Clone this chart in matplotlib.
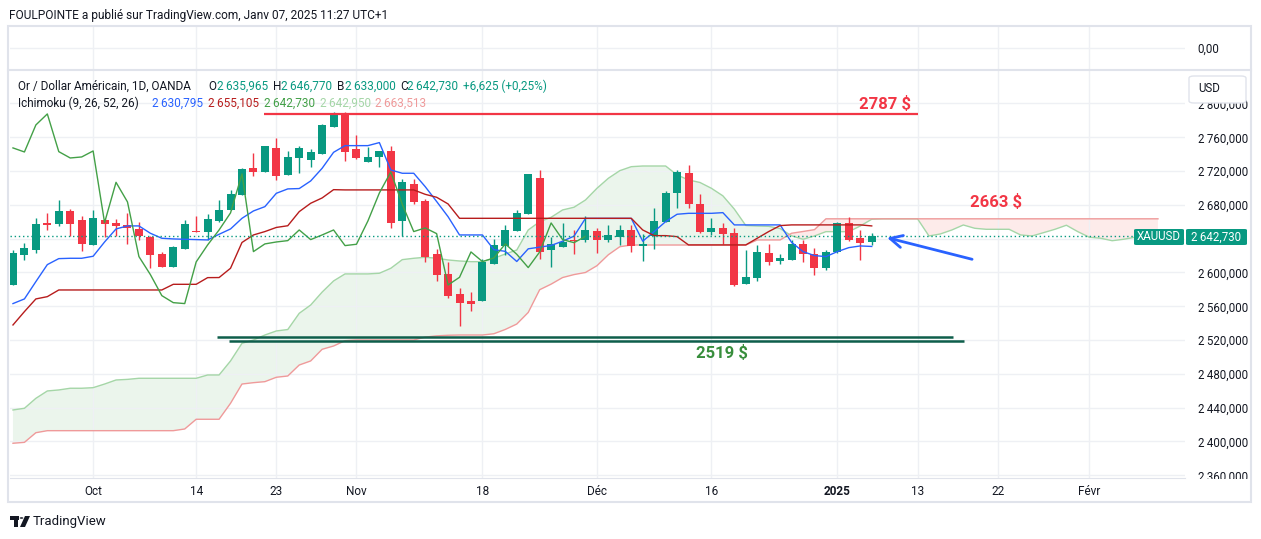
import matplotlib.pyplot as plt
from matplotlib.patches import Rectangle, FancyBboxPatch, Polygon, Circle
from matplotlib.lines import Line2D
import numpy as np

plt.rcParams['font.family'] = ['Roboto', 'DejaVu Sans']

W, H = 1261, 539

# daily candles, index 0 = first visible bar (Sep 20, 2024) .. 75 = Jan 07, 2025
opens = [2585.2, 2621.1, 2626.7, 2659.0, 2657.8, 2672.8, 2662.2, 2633.0, 2661.8, 2659.0,
         2656.3, 2651.5, 2642.4, 2621.9, 2606.5, 2628.2, 2649.2, 2648.0, 2661.4, 2674.4,
         2692.1, 2723.7, 2719.4, 2747.4, 2715.8, 2735.9, 2733.6, 2740.7, 2772.6, 2788.4,
         2746.2, 2731.2, 2736.7, 2743.8, 2661.4, 2704.8, 2684.7, 2621.9, 2598.3, 2574.6,
         2566.3, 2566.7, 2610.5, 2631.8, 2649.5, 2669.3, 2711.9, 2627.1, 2630.6, 2638.9,
         2638.9, 2649.2, 2638.9, 2642.4, 2650.3, 2631.8, 2642.8, 2660.2, 2694.5, 2717.8,
         2681.1, 2648.4, 2652.7, 2647.2, 2586.8, 2593.9, 2623.1, 2614.0, 2615.2, 2633.8,
         2621.9, 2605.8, 2624.3, 2658.6, 2640.5, 2635.965]
highs = [2626.7, 2635.0, 2664.1, 2670.5, 2685.8, 2675.2, 2666.9, 2674.0, 2663.0, 2663.4,
         2670.5, 2660.2, 2643.0, 2624.7, 2631.4, 2662.2, 2666.9, 2669.3, 2685.8, 2697.7,
         2723.5, 2741.5, 2749.7, 2759.2, 2743.8, 2749.3, 2746.2, 2775.4, 2789.6, 2790.4,
         2762.4, 2748.6, 2743.8, 2749.7, 2710.7, 2710.7, 2686.6, 2627.9, 2612.0, 2581.7,
         2576.6, 2616.0, 2640.1, 2656.3, 2674.0, 2716.6, 2720.9, 2641.7, 2658.6, 2650.3,
         2666.5, 2652.3, 2656.3, 2656.3, 2656.3, 2645.2, 2676.0, 2696.5, 2720.9, 2727.3,
         2692.9, 2664.1, 2658.2, 2652.3, 2626.7, 2632.6, 2633.4, 2621.9, 2638.5, 2638.5,
         2628.6, 2626.7, 2660.2, 2665.3, 2649.9, 2646.77]
lows = [2585.2, 2615.2, 2623.5, 2650.7, 2655.5, 2643.6, 2625.9, 2633.0, 2642.4, 2643.6,
        2633.4, 2638.9, 2605.8, 2606.1, 2606.1, 2628.2, 2648.0, 2638.5, 2660.2, 2674.4,
        2692.1, 2714.2, 2719.4, 2709.9, 2715.8, 2718.2, 2724.9, 2740.7, 2771.8, 2732.4,
        2734.0, 2731.2, 2724.9, 2653.1, 2643.2, 2681.5, 2612.1, 2590.4, 2570.0, 2537.1,
        2554.9, 2566.7, 2610.5, 2620.7, 2649.5, 2669.3, 2616.4, 2606.2, 2630.0, 2622.3,
        2635.7, 2622.7, 2635.7, 2632.6, 2624.7, 2614.0, 2627.9, 2659.4, 2676.8, 2676.0,
        2647.2, 2644.4, 2634.2, 2584.4, 2586.0, 2590.4, 2608.9, 2610.1, 2615.0, 2612.9,
        2597.1, 2603.4, 2622.7, 2637.3, 2614.8, 2633.0]
closes = [2622.7, 2628.6, 2657.4, 2656.6, 2672.8, 2657.8, 2634.2, 2664.5, 2657.8, 2655.5,
          2653.1, 2642.8, 2620.7, 2606.5, 2629.8, 2657.4, 2648.0, 2663.4, 2674.0, 2692.9,
          2722.5, 2719.4, 2749.7, 2714.2, 2736.7, 2747.4, 2742.6, 2774.6, 2787.6, 2743.0,
          2735.5, 2736.7, 2743.8, 2659.0, 2706.7, 2683.5, 2618.8, 2597.5, 2572.6, 2564.3,
          2563.2, 2612.5, 2632.6, 2650.3, 2670.5, 2716.6, 2624.7, 2633.8, 2636.1, 2637.7,
          2650.3, 2638.9, 2644.4, 2650.3, 2631.8, 2633.4, 2661.0, 2694.1, 2719.0, 2680.7,
          2648.4, 2652.7, 2646.0, 2585.2, 2594.3, 2624.3, 2612.9, 2617.2, 2633.8, 2621.5,
          2605.8, 2624.3, 2658.6, 2638.9, 2635.3, 2642.73]

# Ichimoku (9, 26, 52, 26)
tenkan = [2563.2, 2568.7, 2589.2, 2609.3, 2616.4, 2616.8, 2616.8, 2619.2, 2636.1, 2651.5,
          2655.1, 2655.1, 2646.4, 2640.5, 2639.7, 2639.3, 2638.9, 2638.5, 2645.2, 2651.5,
          2664.1, 2672.8, 2677.9, 2693.7, 2698.9, 2699.3, 2708.3, 2723.3, 2742.2, 2750.1,
          2750.1, 2750.1, 2753.7, 2721.3, 2717.4, 2717.4, 2701.6, 2684.0, 2666.0, 2644.4,
          2644.4, 2644.4, 2627.0, 2625.0, 2613.0, 2628.0, 2630.0, 2632.0, 2637.0, 2643.0,
          2664.0, 2664.0, 2664.0, 2664.0, 2664.0, 2637.0, 2648.4, 2660.2, 2668.9, 2670.0,
          2670.0, 2670.0, 2670.8, 2656.3, 2656.3, 2656.3, 2656.3, 2656.3, 2635.7, 2624.7,
          2620.0, 2618.8, 2624.7, 2629.4, 2631.4, 2630.8]
kijun = [2537.9, 2553.7, 2568.7, 2571.4, 2579.3, 2579.3, 2579.3, 2579.3, 2579.3, 2579.3,
         2579.3, 2579.3, 2579.3, 2579.3, 2586.0, 2586.0, 2586.0, 2593.9, 2594.0, 2605.0,
         2635.5, 2644.4, 2648.4, 2653.3, 2655.3, 2672.0, 2681.9, 2688.2, 2698.0, 2697.7,
         2697.7, 2697.7, 2697.7, 2697.7, 2697.7, 2697.7, 2692.5, 2689.0, 2681.1, 2664.1,
         2664.1, 2664.1, 2664.1, 2664.1, 2664.1, 2664.1, 2664.1, 2664.1, 2664.1, 2664.1,
         2664.1, 2664.1, 2664.1, 2664.1, 2664.1, 2650.3, 2643.6, 2643.6, 2642.4, 2632.6,
         2632.6, 2632.6, 2632.6, 2632.6, 2632.6, 2640.5, 2648.4, 2655.5, 2656.3, 2656.3,
         2656.3, 2656.3, 2656.3, 2656.3, 2656.3, 2655.1]
span_a = [2437.3, 2439.3, 2451.1, 2459.8, 2461.0, 2463.0, 2463.0, 2463.7, 2468.0, 2472.8,
          2473.5, 2474.8, 2474.8, 2474.8, 2474.8, 2474.8, 2474.8, 2478.7, 2478.7, 2495.3,
          2516.2, 2520.1, 2526.0, 2530.8, 2532.5, 2551.7, 2561.5, 2576.8, 2590.0, 2598.3,
          2598.3, 2598.3, 2599.1, 2605.0, 2615.2, 2616.8, 2618.0, 2616.9, 2614.8, 2613.6,
          2612.8, 2612.8, 2616.8, 2621.9, 2626.6, 2650.3, 2660.1, 2665.3, 2674.0, 2677.2,
          2685.8, 2699.6, 2711.5, 2720.5, 2725.2, 2726.0, 2726.0, 2726.0, 2715.4, 2709.5,
          2706.5, 2699.6, 2690.7, 2675.0, 2655.6, 2655.0, 2654.6, 2652.0, 2643.4, 2639.3,
          2643.2, 2648.3, 2648.3, 2648.3, 2655.0, 2663.0, 2663.5, 2663.5, 2663.5, 2663.5,
          2643.2, 2645.6, 2650.3, 2656.2, 2652.3, 2651.1, 2651.1, 2651.1, 2644.4, 2643.2,
          2647.1, 2651.1, 2655.9, 2648.3, 2641.7, 2640.5, 2637.6, 2639.3, 2641.7, 2642.5,
          2642.95]
span_b = [2397.9, 2399.0, 2410.4, 2412.8, 2412.8, 2412.8, 2412.8, 2412.8, 2412.8, 2412.8,
          2412.8, 2412.8, 2412.8, 2412.8, 2412.8, 2414.8, 2426.3, 2426.3, 2426.3, 2445.2,
          2468.0, 2469.6, 2470.8, 2476.0, 2477.5, 2490.5, 2495.3, 2509.1, 2513.0, 2519.3,
          2520.1, 2520.1, 2520.1, 2520.1, 2520.1, 2520.1, 2523.5, 2525.0, 2525.7, 2526.0,
          2526.0, 2526.0, 2527.5, 2532.6, 2539.0, 2552.7, 2579.6, 2586.2, 2594.0, 2597.5,
          2600.0, 2608.0, 2621.0, 2630.5, 2632.5, 2632.5, 2632.5, 2632.5, 2632.5, 2632.5,
          2632.5, 2632.5, 2632.5, 2632.5, 2632.5, 2638.5, 2638.5, 2638.5, 2646.4, 2648.5,
          2650.7, 2663.5, 2663.5, 2663.5, 2663.5, 2663.5, 2663.5, 2663.5, 2663.5, 2663.5,
          2663.5, 2663.5, 2663.5, 2663.5, 2663.5, 2663.5, 2663.5, 2663.5, 2663.5, 2663.5,
          2663.5, 2663.5, 2663.5, 2663.5, 2663.5, 2663.5, 2663.5, 2663.5, 2663.5, 2663.5,
          2663.513]
lag = 25  # TradingView shifts by displacement - 1

tick_idx = [7, 16, 23, 30, 41, 51, 61, 72, 79, 86, 94]
tick_labels = ['Oct', '14', '23', 'Nov', '18', 'Déc', '16', '2025', '13', '22', 'Févr']
price_ticks = list(range(2360, 2801, 40))
last_price = 2642.73

# drawings
res_level, res_from, res_to = 2787.6, 21.9, 79.0
sup_levels = [2523.7, 2519.0]
sup_from = [17.8, 18.9]
sup_to = [82.1, 83.1]

UP, DN = '#089981', '#F23645'
TXT = '#131722'
GRID = '#EEF0F4'
BORDER = '#E0E3EB'


def fpos(x, y):
    return x / W, 1 - y / H


def fmt(v, dec=3):
    s = f"{v:,.{dec}f}"
    return s.replace(',', '\u2009').replace('.', ',')


fig = plt.figure(figsize=(W / 100, H / 100), dpi=100)
fig.patch.set_facecolor('white')

x0, y0 = fpos(10, 478)
x1, y1 = fpos(1185, 70)
ax = fig.add_axes([x0, y0, x1 - x0, y1 - y0])
_, yt = fpos(0, 27)
ax_top = fig.add_axes([x0, y1, x1 - x0, yt - y1])

xlim = (-0.26, 102.36)
for a in (ax, ax_top):
    a.set_xlim(*xlim)
    a.set_facecolor('white')
    for s in a.spines.values():
        s.set_visible(False)
    a.set_xticks(tick_idx)
    a.grid(axis='x', color=GRID, lw=1, zorder=0)
    a.tick_params(length=0)

ax.set_ylim(2356.8, 2839.6)
ax.yaxis.tick_right()
ax.set_yticks(price_ticks)
# the 2 640 label sits under the last-price tag, so it is left blank
ax.set_yticklabels(['' if v == 2640 else fmt(v) for v in price_ticks], fontsize=8.3, color=TXT)
ax.tick_params(axis='y', pad=9)
ax.grid(axis='y', color=GRID, lw=1, zorder=0)
ax.set_xticklabels(tick_labels, fontsize=8.5, color=TXT)
ax.tick_params(axis='x', pad=5)
ax.get_xticklabels()[7].set_fontweight('bold')
ax.spines['bottom'].set_visible(True)
ax.spines['bottom'].set_color(BORDER)

ax_top.set_ylim(0, 1)
ax_top.yaxis.tick_right()
ax_top.set_yticks([0.51])
ax_top.set_yticklabels(['0,00'], fontsize=8.3, color=TXT)
ax_top.tick_params(axis='y', pad=9)
ax_top.grid(axis='y', color=GRID, lw=1)
ax_top.set_xticklabels([])

# Ichimoku cloud
xc = np.arange(len(span_a))
sa, sb = np.array(span_a), np.array(span_b)
ax.fill_between(xc, sa, sb, where=sa >= sb, interpolate=True, color='#43A047', alpha=0.1, lw=0, zorder=1)
ax.fill_between(xc, sa, sb, where=sa < sb, interpolate=True, color='#F44336', alpha=0.1, lw=0, zorder=1)
ax.plot(xc, sa, color='#A5D6A7', lw=1, zorder=2)
ax.plot(xc, sb, color='#EF9A9A', lw=1, zorder=2)

# candles
xi = np.arange(len(closes))
o, h, l, c = map(np.array, (opens, highs, lows, closes))
cols = np.where(c >= o, UP, DN)
ax.vlines(xi, l, h, colors=cols, lw=1, zorder=3)
ax.bar(xi, np.maximum(np.abs(c - o), 0.9), bottom=np.minimum(o, c), width=0.7,
       color=cols, lw=0, zorder=3)

# lines
ax.plot(xi, tenkan, color='#2962FF', lw=1, zorder=4)
ax.plot(xi, kijun, color='#B71C1C', lw=1, zorder=4)
ax.plot(xi[:len(closes) - lag], c[lag:], color='#43A047', lw=1, zorder=4)

# current price line
ax.axhline(last_price, color=UP, lw=1, ls=(0, (1, 2)), zorder=4)

# drawn levels
ax.hlines(res_level, res_from, res_to, color='#F23645', lw=1.6, zorder=5)
for lv, a0, a1 in zip(sup_levels, sup_from, sup_to):
    ax.hlines(lv, a0, a1, color='#0E5E4B', lw=1.8, zorder=5)
ax.text(76.2, 2799.4, '2787 $', color='#F23645', fontsize=12, fontweight='bold',
        ha='center', va='center', zorder=6)
ax.text(85.85, 2683.4, '2663 $', color='#F23645', fontsize=12, fontweight='bold',
        ha='center', va='center', zorder=6)
ax.text(61.9, 2504.7, '2519 $', color='#388E3C', fontsize=12, fontweight='bold',
        ha='center', va='center', zorder=6)
ax.annotate('', xy=(76.1, 2642.0), xytext=(84.0, 2614.8),
            arrowprops=dict(arrowstyle='->', color='#2962FF', lw=2, mutation_scale=22),
            zorder=6)

# outer frame and separators
fig.patches.append(Rectangle(fpos(8, 502), (1251 - 8) / W, (502 - 26) / H, transform=fig.transFigure,
                             fill=False, edgecolor=BORDER, lw=1.5, zorder=10))
fig.lines.append(Line2D([8 / W, 1251 / W], [1 - 70 / H, 1 - 70 / H], transform=fig.transFigure,
                        color=BORDER, lw=1.5, zorder=10))
# hide the clipped bottom price label area
fig.patches.append(Rectangle(fpos(1187, 501), 63 / W, 22 / H, transform=fig.transFigure,
                             facecolor='white', edgecolor='none', zorder=9))
fig.patches.append(Rectangle(fpos(1187, 478), 63 / W, 0.5 / H, transform=fig.transFigure,
                             facecolor=BORDER, edgecolor='none', zorder=9))

# USD box (covers most of the 2 800 label)
fig.patches.append(FancyBboxPatch(fpos(1189, 103), 57 / W, 27 / H, transform=fig.transFigure,
                                  boxstyle='round,pad=0,rounding_size=0.004', facecolor='white',
                                  edgecolor=BORDER, lw=1, zorder=11))
fig.text(*fpos(1198, 89), 'USD', fontsize=8.3, color=TXT, va='center', ha='left', zorder=12)

# last price labels
fig.patches.append(FancyBboxPatch(fpos(1134, 245), 50 / W, 16 / H, transform=fig.transFigure,
                                  boxstyle='round,pad=0,rounding_size=0.002', facecolor=UP,
                                  edgecolor='none', zorder=11))
fig.patches.append(FancyBboxPatch(fpos(1186, 245), 61 / W, 16 / H, transform=fig.transFigure,
                                  boxstyle='round,pad=0,rounding_size=0.002', facecolor=UP,
                                  edgecolor='none', zorder=11))
fig.text(*fpos(1159, 237), 'XAUUSD', fontsize=8.3, color='white', va='center', ha='center', zorder=12)
fig.text(*fpos(1216, 237), fmt(last_price), fontsize=8.3, color='white', va='center', ha='center',
         zorder=12)

# header
fig.text(*fpos(9, 15), 'FOULPOINTE a publié sur TradingView.com, Janv 07, 2025 11:27 UTC+1',
         fontsize=8.6, color=TXT, va='center', ha='left')

leg1 = [(18, 'Or / Dollar Américain, 1D, OANDA', TXT),
        (208, 'O', TXT), (217, fmt(opens[-1]), UP),
        (273, 'H', TXT), (281, fmt(highs[-1]), UP),
        (337, 'B', TXT), (345, fmt(lows[-1]), UP),
        (400, 'C', TXT), (407, fmt(closes[-1]), UP),
        (463, '+6,625 (+0,25%)', UP)]
for xx, s, col in leg1:
    fig.text(*fpos(xx, 86), s, fontsize=8.5, color=col, va='center', ha='left')

leg2 = [(18, 'Ichimoku (9, 26, 52, 26)', TXT),
        (152, fmt(tenkan[-1] - 0.005), '#2962FF'),
        (208, fmt(kijun[-1] + 0.005), '#B71C1C'),
        (264, fmt(closes[-1]), '#43A047'),
        (320, fmt(span_a[-1]), '#A5D6A7'),
        (375, fmt(span_b[-1]), '#EF9A9A')]
for xx, s, col in leg2:
    fig.text(*fpos(xx, 103), s, fontsize=8.5, color=col, va='center', ha='left')

# footer logo
fig.patches.append(Rectangle(fpos(10, 520), 9 / W, 4 / H, transform=fig.transFigure,
                             facecolor=TXT, edgecolor='none'))
fig.patches.append(Rectangle(fpos(14, 527), 4 / W, 8 / H, transform=fig.transFigure,
                             facecolor=TXT, edgecolor='none'))
fig.patches.append(Circle(fpos(21.5, 518), 1.8 / W, transform=fig.transFigure,
                          facecolor=TXT, edgecolor='none'))
fig.patches.append(Polygon([fpos(25, 516), fpos(30, 516), fpos(25, 527), fpos(20, 527)],
                           closed=True, transform=fig.transFigure, facecolor=TXT, edgecolor='none'))
fig.text(*fpos(33, 521), 'TradingView', fontsize=9.5, color=TXT, va='center', ha='left')

fig.savefig('out.png', dpi=100, facecolor='white')
